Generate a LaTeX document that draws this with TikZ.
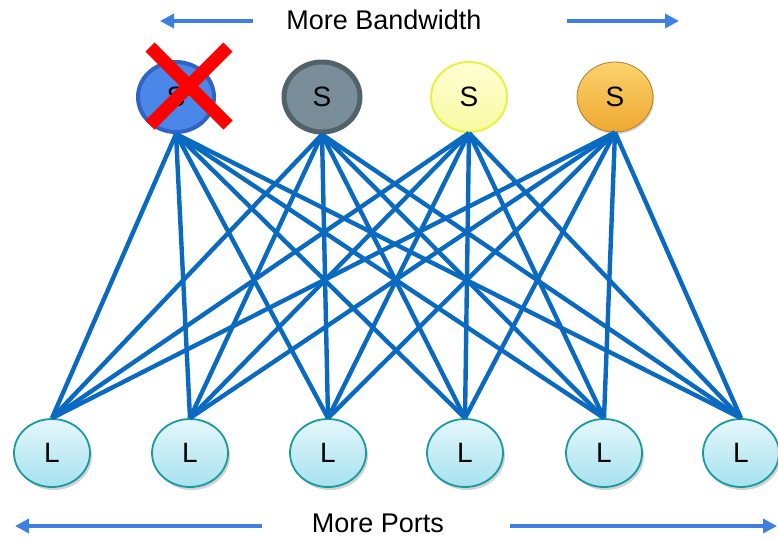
\documentclass[tikz,border=0pt]{standalone}
\usepackage{fontspec}
\setmainfont{Liberation Sans}
\usetikzlibrary{shapes.geometric,arrows.meta,shadows}

\definecolor{linkblue}{HTML}{0A6AC2}
\definecolor{arrowblue}{HTML}{3F7FE0}
\definecolor{leafedge}{HTML}{1A9A9E}
\definecolor{leaftop}{HTML}{E4F7FB}
\definecolor{leafbot}{HTML}{A6E2EF}

\tikzset{
  spine/.style={ellipse, minimum width=76pt, minimum height=70pt, inner sep=0pt,
    font=\fontsize{28}{28}\selectfont},
  leaf/.style={ellipse, minimum width=76pt, minimum height=68pt, inner sep=0pt,
    draw=leafedge, line width=1.8pt, top color=leaftop, bottom color=leafbot,
    drop shadow={shadow xshift=2pt, shadow yshift=-3pt, opacity=0.35},
    font=\fontsize{28}{28}\selectfont},
  link/.style={draw=linkblue, line width=4.4pt},
  bigarrow/.style={draw=arrowblue, line width=3.6pt,
    -{Triangle[length=14pt,width=14pt]}},
  caption/.style={font=\fontsize{27}{27}\selectfont, inner sep=0pt},
  cross/.style={draw=red, line width=13pt},
}

\begin{document}
\begin{tikzpicture}[x=1pt,y=-1pt]
  \useasboundingbox (0,0) rectangle (778,539);

  % leaf switches
  \foreach \i/\x in {1/52,2/190,3/328,4/465,5/604,6/741}
    \node[leaf] (L\i) at (\x,453) {L};

  % spine switches
  \node[spine, draw={rgb,255:red,47;green,100;blue,196}, line width=4pt, fill={rgb,255:red,74;green,135;blue,232}] (S1) at (176,97) {S};
  \node[spine, draw={rgb,255:red,82;green,98;blue,107}, line width=5pt, fill={rgb,255:red,122;green,142;blue,153}] (S2) at (322,97) {S};
  \node[spine, draw={rgb,255:red,232;green,242;blue,70}, line width=2pt, top color={rgb,255:red,255;green,255;blue,212}, bottom color={rgb,255:red,248;green,250;blue,160}] (S3) at (469,97) {S};
  \node[spine, draw={rgb,255:red,176;green,128;blue,40}, line width=0.8pt, top color={rgb,255:red,252;green,210;blue,110}, bottom color={rgb,255:red,238;green,168;blue,48},
    drop shadow={shadow xshift=1pt, shadow yshift=-2pt, opacity=0.35}] (S4) at (615,97) {S};

  % full mesh between spine and leaf layers
  \foreach \s in {1,...,4}
    \foreach \l in {1,...,6}
      \draw[link] (S\s.south) -- (L\l.north);

  % failed spine
  \coordinate (xa) at (150,47);
  \coordinate (xb) at (228,125);
  \coordinate (xc) at (228,47);
  \coordinate (xd) at (150,125);
  \draw[cross] (xa) -- (xb);
  \draw[cross] (xc) -- (xd);

  % scaling directions
  \node[caption] (bw) at (384,20) {More Bandwidth};
  \coordinate (bwl) at (160,21);
  \coordinate (bwr) at (679,21);
  \draw[bigarrow] (253,21) -- (bwl);
  \draw[bigarrow] (567,21) -- (bwr);

  \node[caption] (ports) at (378,523) {More Ports};
  \coordinate (pl) at (15,526);
  \coordinate (pr) at (777,526);
  \draw[bigarrow] (262,526) -- (pl);
  \draw[bigarrow] (510,526) -- (pr);
\end{tikzpicture}
\end{document}
